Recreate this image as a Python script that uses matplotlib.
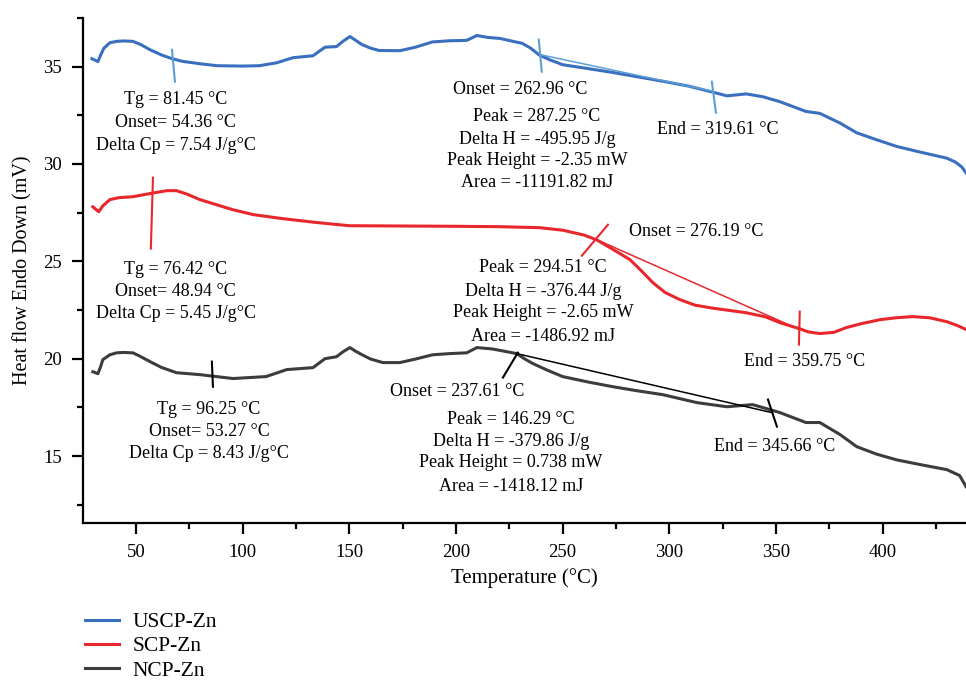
import matplotlib
matplotlib.use("Agg")
import matplotlib.pyplot as plt
from matplotlib.ticker import MultipleLocator

plt.rcParams['font.family'] = ['Liberation Serif', 'DejaVu Serif']

# USCP-Zn curve
t_blue = [29.4, 32.2, 33.5, 35, 37.8, 41, 44, 48.6, 52, 56.6, 62, 66.9, 72, 80, 88, 100, 108,
          116, 123.6, 133, 138.6, 144, 147, 150.3, 153, 156, 160, 164, 173.7, 181, 189, 197,
          205, 209.8, 215, 220.6, 226.7, 231, 235, 239, 244, 250, 262, 273.5, 285, 297, 309,
          320, 327, 336, 344, 351.8, 364, 370.5, 380, 387.8, 397, 406.6, 418, 430, 434, 437,
          439]
v_blue = [35.41, 35.26, 35.6, 35.95, 36.23, 36.3, 36.32, 36.3, 36.15, 35.87, 35.6, 35.41, 35.27,
          35.15, 35.05, 35.03, 35.05, 35.2, 35.46, 35.56, 36.0, 36.03, 36.3, 36.55, 36.35, 36.13,
          35.95, 35.83, 35.82, 36.0, 36.27, 36.33, 36.35, 36.6, 36.5, 36.45, 36.3, 36.2, 35.95,
          35.6, 35.35, 35.1, 34.9, 34.7, 34.48, 34.25, 34.0, 33.7, 33.5, 33.6, 33.45, 33.2, 32.7,
          32.6, 32.1, 31.6, 31.25, 30.9, 30.6, 30.3, 30.1, 29.85, 29.55]

# SCP-Zn curve
t_red = [29.8, 32.6, 34.5, 37.8, 42, 48.6, 57.5, 64.5, 69, 74, 80, 88, 95.5, 105, 119, 135,
         150, 200, 220.6, 239, 250, 260, 266, 273, 281.5, 287, 292.3, 298, 305, 312, 320, 336,
         345, 351.8, 361, 365, 370.5, 377, 383, 390, 398.6, 406, 414, 422, 430, 435, 439]
v_red = [27.8, 27.55, 27.85, 28.17, 28.27, 28.32, 28.5, 28.63, 28.63, 28.45, 28.17, 27.9,
         27.65, 27.4, 27.19, 26.99, 26.83, 26.8, 26.78, 26.73, 26.6, 26.35, 26.1, 25.65, 25.09,
         24.5, 23.9, 23.4, 23.03, 22.75, 22.6, 22.36, 22.15, 21.85, 21.54, 21.38, 21.29, 21.35,
         21.6, 21.8, 22.0, 22.1, 22.16, 22.1, 21.9, 21.7, 21.5]

# NCP-Zn curve
t_black = [29.8, 32.2, 33.5, 34.5, 37.8, 41, 44, 48.6, 52, 56.6, 62, 69, 80, 95.5, 111, 120.7,
           133, 138.6, 144, 147, 150.3, 153, 156, 160, 165.7, 173.7, 181, 189, 197, 205, 209.8,
           217, 228.5, 232, 236, 243, 250, 262, 273.5, 285, 297, 313, 327, 339, 345, 351.8, 364,
           370.5, 380, 387.8, 397, 406.6, 418, 430, 436, 439]
v_black = [19.33, 19.23, 19.6, 19.95, 20.2, 20.3, 20.32, 20.3, 20.12, 19.85, 19.55, 19.28, 19.18,
           18.98, 19.08, 19.44, 19.54, 20.0, 20.1, 20.35, 20.57, 20.38, 20.2, 19.98, 19.8, 19.8,
           19.98, 20.2, 20.26, 20.3, 20.57, 20.5, 20.26, 20.0, 19.75, 19.4, 19.08, 18.8, 18.56,
           18.35, 18.15, 17.74, 17.53, 17.64, 17.45, 17.23, 16.72, 16.72, 16.1, 15.48, 15.1, 14.8,
           14.55, 14.3, 14.0, 13.43]

# marker / tangent segments: ((t0, t1), (v0, v1))
blue_marks = [((66.9, 68.3), (35.87, 34.23)),
              ((238.8, 240.2), (36.39, 34.74)),
              ((319.9, 321.8), (34.23, 32.64)),
              ((239.3, 320.9), (35.62, 33.72))]
red_marks = [((58.0, 57.0), (29.3, 25.65)),
             ((259.0, 271.2), (25.29, 26.88)),
             ((361.1, 360.7), (22.42, 20.72)),
             ((266.0, 361.1), (26.11, 21.49))]
black_marks = [((85.6, 86.1), (19.85, 18.56)),
               ((222.0, 229.0), (19.03, 20.31)),
               ((346.2, 350.4), (17.9, 16.51)),
               ((228.5, 348.0), (20.26, 17.23))]

# annotation texts
blue_tg = ["Tg = 81.45 °C", "Onset= 54.36 °C", "Delta Cp = 7.54 J/g°C"]
blue_onset = "Onset = 262.96 °C"
blue_peak = ["Peak = 287.25 °C", "Delta H = -495.95 J/g", "Peak Height = -2.35 mW",
             "Area = -11191.82 mJ"]
blue_end = "End = 319.61 °C"
red_tg = ["Tg = 76.42 °C", "Onset= 48.94 °C", "Delta Cp = 5.45 J/g°C"]
red_onset = "Onset = 276.19 °C"
red_peak = ["Peak = 294.51 °C", "Delta H = -376.44 J/g", "Peak Height = -2.65 mW",
            "Area = -1486.92 mJ"]
red_end = "End = 359.75 °C"
black_tg = ["Tg = 96.25 °C", "Onset= 53.27 °C", "Delta Cp = 8.43 J/g°C"]
black_onset = "Onset = 237.61 °C"
black_peak = ["Peak = 146.29 °C", "Delta H = -379.86 J/g", "Peak Height = 0.738 mW",
              "Area = -1418.12 mJ"]
black_end = "End = 345.66 °C"

labels = ["USCP-Zn", "SCP-Zn", "NCP-Zn"]
c_blue, c_blue2 = "#3a6fc0", "#5a9fd8"
c_red = "#e8272c"
c_black = "#3c3c3c"

fig = plt.figure(figsize=(9.66, 6.84), dpi=100)
ax = fig.add_axes([0.0859, 0.2354, 0.9141, 0.7383])

l1, = ax.plot(t_blue, v_blue, color=c_blue, lw=2.2)
l2, = ax.plot(t_red, v_red, color=c_red, lw=2.2)
l3, = ax.plot(t_black, v_black, color=c_black, lw=2.2)

for (tt, vv) in blue_marks[:3]:
    ax.plot(tt, vv, color=c_blue2, lw=1.5)
ax.plot(*blue_marks[3], color=c_blue2, lw=1.1)
for (tt, vv) in red_marks[:3]:
    ax.plot(tt, vv, color=c_red, lw=1.5)
ax.plot(*red_marks[3], color=c_red, lw=1.1)
for (tt, vv) in black_marks[:3]:
    ax.plot(tt, vv, color="black", lw=1.5)
ax.plot(*black_marks[3], color="black", lw=1.1)

fs = 13


def block(x, ys, lines):
    for y, s in zip(ys, lines):
        ax.text(x, y, s, ha='center', va='center', fontsize=fs)


block(68.7, [33.31, 32.12, 30.94], blue_tg)
ax.text(230, 33.82, blue_onset, ha='center', va='center', fontsize=fs)
block(237.9, [32.43, 31.25, 30.17, 29.04], blue_peak)
ax.text(322.7, 31.76, blue_end, ha='center', va='center', fontsize=fs)

block(68.7, [24.57, 23.44, 22.31], red_tg)
ax.text(312.4, 26.53, red_onset, ha='center', va='center', fontsize=fs)
block(240.7, [24.68, 23.44, 22.37, 21.13], red_peak)
ax.text(363.5, 19.85, red_end, ha='center', va='center', fontsize=fs)

block(84.2, [17.38, 16.25, 15.12], black_tg)
ax.text(200.4, 18.31, black_onset, ha='center', va='center', fontsize=fs)
block(225.7, [16.87, 15.74, 14.66, 13.43], black_peak)
ax.text(349.4, 15.48, black_end, ha='center', va='center', fontsize=fs)

ax.set_xlim(25.2, 439)
ax.set_ylim(11.56, 37.5)
ax.xaxis.set_minor_locator(MultipleLocator(25))
ax.yaxis.set_minor_locator(MultipleLocator(2.5))
ax.set_xticks([50, 100, 150, 200, 250, 300, 350, 400])
ax.set_yticks([15, 20, 25, 30, 35])
for s in ['top', 'right']:
    ax.spines[s].set_visible(False)
for s in ['left', 'bottom']:
    ax.spines[s].set_linewidth(1.6)
ax.tick_params(which='major', length=8, width=1.6, labelsize=13.5, pad=7)
ax.tick_params(which='minor', length=4, width=1.6)
ax.set_xlabel("Temperature (°C)", fontsize=15, labelpad=5)
ax.set_ylabel("Heat flow Endo Down (mV)", fontsize=14.5, labelpad=8)

fig.legend([l1, l2, l3], labels, loc='upper left', bbox_to_anchor=(0.088, 1 - 612 / 684),
           frameon=False, fontsize=15.5, handlelength=1.6, handletextpad=0.6,
           labelspacing=0.2, borderpad=0, borderaxespad=0)

fig.savefig("out.png", dpi=100)
